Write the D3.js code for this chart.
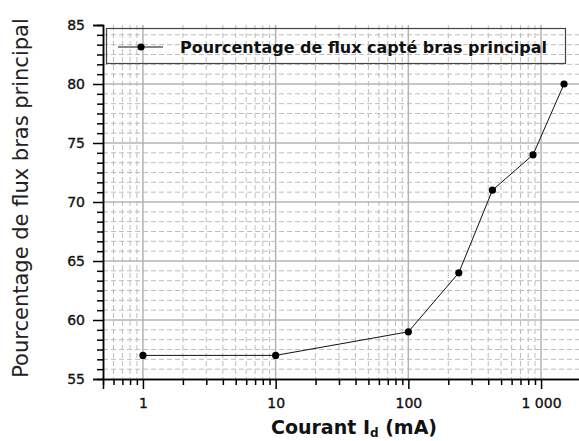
<!DOCTYPE html>
<html>
<head>
<meta charset="utf-8">
<script src="https://cdn.jsdelivr.net/npm/d3@7"></script>
<style>
  html, body { margin: 0; padding: 0; background: #fff; }
  svg { display: block; }
</style>
</head>
<body>
<svg id="chart" width="579" height="441"></svg>
<script>
// Measured current (mA) and share of flux captured by the main arm (%)
const courant = [1, 10, 100, 240, 430, 870, 1490];
const pourcentage = [57, 57, 59, 64, 71, 74, 80];
const xMajorTicks = [1, 10, 100, 1000];
const yMajorTicks = [55, 60, 65, 70, 75, 80, 85];
const seriesName = "Pourcentage de flux capté bras principal";
const xTitle = "Courant I";
const xTitleSub = "d";
const xTitleUnit = " (mA)";
const yTitle = "Pourcentage de flux bras principal";

const svg = d3.select("#chart");
const plotLeft = 103, plotTop = 25, plotBottom = 379, plotRight = 581;

const x = d3.scaleLog().domain([0.5, 2000]).range([plotLeft, plotRight]);
const y = d3.scaleLinear().domain([55, 85]).range([plotBottom, plotTop]);

// French number formatting: space as thousands separator
const fr = d3.formatLocale({ decimal: ",", thousands: " ", grouping: [3], currency: ["", " €"] });
const fmt = fr.format(",d");

// minor ticks
const xMinor = [];
[0.1, 1, 10, 100, 1000].forEach(dec => {
  for (let k = 2; k <= 9; k++) {
    const v = dec * k;
    if (v > 0.5 && v < 2000) xMinor.push(v);
  }
});
const yMinor = [];
for (let i = 0; i < 6 * 6; i++) {
  const v = 55 + i * 5 / 6;
  if (i % 6 !== 0) yMinor.push(v);
}

const grid = svg.append("g");
// dashed minor grid
grid.selectAll("line.xmin").data(xMinor).join("line")
  .attr("x1", d => x(d)).attr("x2", d => x(d))
  .attr("y1", plotTop).attr("y2", plotBottom)
  .attr("stroke", "#bdbdbd").attr("stroke-width", 1).attr("stroke-dasharray", "5,3");
grid.selectAll("line.ymin").data(yMinor).join("line")
  .attr("x1", plotLeft).attr("x2", plotRight)
  .attr("y1", d => y(d)).attr("y2", d => y(d))
  .attr("stroke", "#bdbdbd").attr("stroke-width", 1).attr("stroke-dasharray", "5,3");
// solid major grid
grid.selectAll("line.xmaj").data(xMajorTicks).join("line")
  .attr("x1", d => x(d)).attr("x2", d => x(d))
  .attr("y1", plotTop).attr("y2", plotBottom)
  .attr("stroke", "#b4b4b4").attr("stroke-width", 1.5);
grid.selectAll("line.ymaj").data(yMajorTicks.filter(v => v > 55 && v < 85)).join("line")
  .attr("x1", plotLeft).attr("x2", plotRight)
  .attr("y1", d => y(d)).attr("y2", d => y(d))
  .attr("stroke", "#b4b4b4").attr("stroke-width", 1.5);

// axes
const axisFont = "'DejaVu Sans', sans-serif";
const xAxisMinor = svg.append("g").attr("transform", `translate(0,${plotBottom})`)
  .call(d3.axisBottom(x).tickValues(xMinor).tickSize(6).tickFormat(""));
const xAxis = svg.append("g").attr("transform", `translate(0,${plotBottom})`)
  .call(d3.axisBottom(x).tickValues(xMajorTicks).tickSize(10).tickPadding(9).tickFormat(fmt));
const yAxisMinor = svg.append("g").attr("transform", `translate(${plotLeft},0)`)
  .call(d3.axisLeft(y).tickValues(yMinor).tickSize(6).tickFormat(""));
const yAxis = svg.append("g").attr("transform", `translate(${plotLeft},0)`)
  .call(d3.axisLeft(y).tickValues(yMajorTicks).tickSize(10).tickPadding(8).tickFormat(d3.format("d")));

[xAxisMinor, xAxis, yAxisMinor, yAxis].forEach(g => {
  g.selectAll("path.domain").attr("stroke", "#000").attr("stroke-width", 1.5);
  g.selectAll(".tick line").attr("stroke", "#000").attr("stroke-width", 1.5);
  g.selectAll("text").attr("fill", "#111").attr("stroke", "#111").attr("stroke-width", 0.35)
    .style("font-family", axisFont).style("font-size", "14px");
});
xAxis.selectAll("text").attr("dy", "0.71em");

// series line and markers
const pts = courant.map((c, i) => [c, pourcentage[i]]);
svg.append("path").datum(pts)
  .attr("fill", "none").attr("stroke", "#111").attr("stroke-width", 1)
  .attr("d", d3.line().x(d => x(d[0])).y(d => y(d[1])));
svg.selectAll("circle.pt").data(pts).join("circle")
  .attr("cx", d => x(d[0])).attr("cy", d => y(d[1])).attr("r", 3.6).attr("fill", "#000");

// legend
const lg = svg.append("g");
lg.append("rect").attr("x", 106.5).attr("y", 28.5).attr("width", 459).attr("height", 35)
  .attr("fill", "none").attr("stroke", "#444").attr("stroke-width", 1.2);
lg.append("line").attr("x1", 118).attr("x2", 163).attr("y1", 47).attr("y2", 47)
  .attr("stroke", "#111").attr("stroke-width", 1);
lg.append("circle").attr("cx", 141).attr("cy", 47).attr("r", 3.6).attr("fill", "#000");
lg.append("text").attr("x", 180).attr("y", 52.5).text(seriesName)
  .style("font-family", axisFont).style("font-weight", "bold").style("font-size", "16px").attr("fill", "#111");

// axis titles
const xt = svg.append("text").attr("x", 354).attr("y", 434).attr("text-anchor", "middle")
  .style("font-family", axisFont).style("font-weight", "bold").style("font-size", "19px").attr("fill", "#111");
xt.append("tspan").text(xTitle);
xt.append("tspan").text(xTitleSub).attr("dy", 3).style("font-size", "12px");
xt.append("tspan").text(xTitleUnit).attr("dy", -3);

svg.append("text").attr("transform", `translate(28,198) rotate(-90)`).attr("text-anchor", "middle")
  .style("font-family", axisFont).style("font-size", "21px").attr("fill", "#222").text(yTitle);
</script>
</body>
</html>
